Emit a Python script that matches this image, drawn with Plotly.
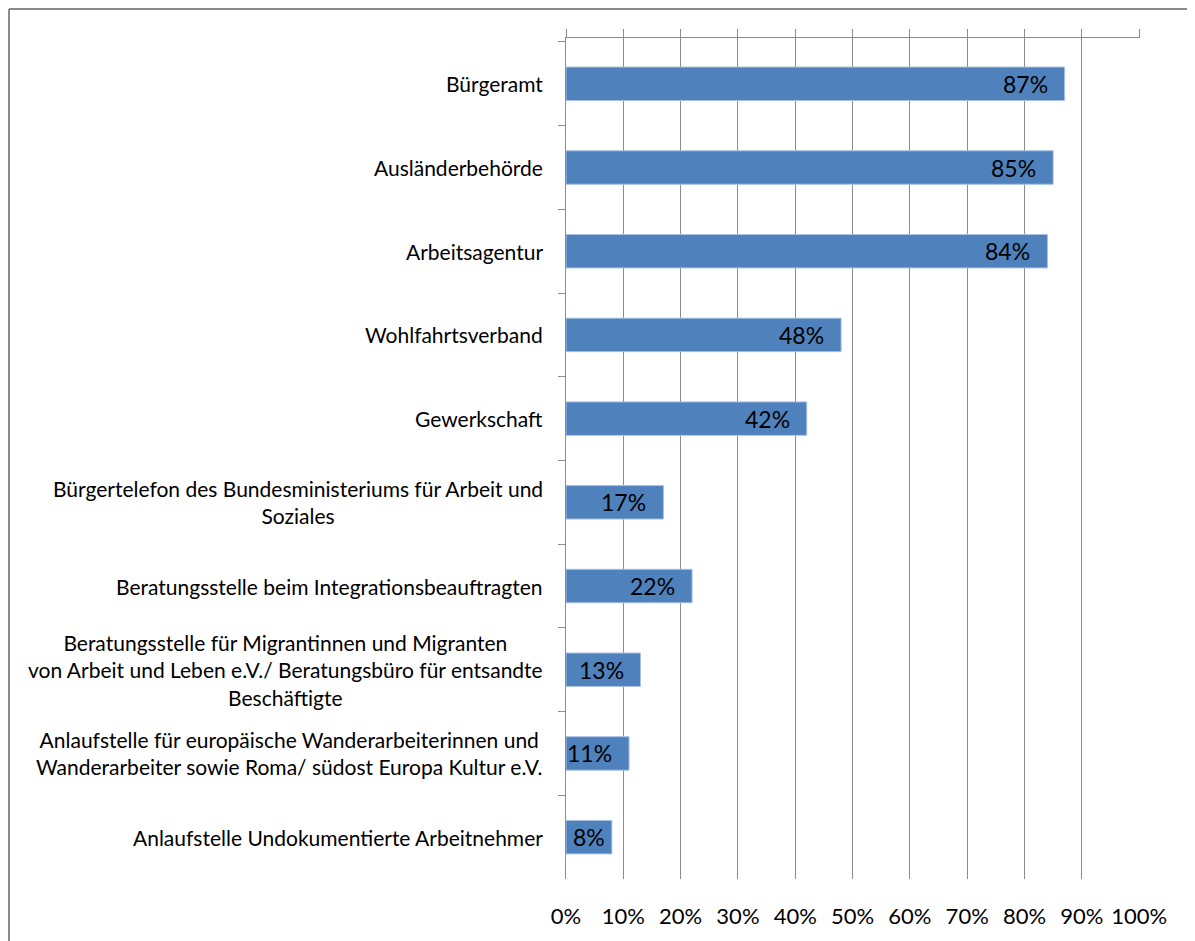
import plotly.graph_objects as go

categories = [
    "Bürgeramt",
    "Ausländerbehörde",
    "Arbeitsagentur",
    "Wohlfahrtsverband",
    "Gewerkschaft",
    "Bürgertelefon des Bundesministeriums für Arbeit und<br>Soziales",
    "Beratungsstelle beim Integrationsbeauftragten",
    "Beratungsstelle für Migrantinnen und Migranten<br>von Arbeit und Leben e.V./ Beratungsbüro für entsandte<br>Beschäftigte",
    "Anlaufstelle für europäische Wanderarbeiterinnen und<br>Wanderarbeiter sowie Roma/ südost Europa Kultur e.V.",
    "Anlaufstelle Undokumentierte Arbeitnehmer",
]
values = [87, 85, 84, 48, 42, 17, 22, 13, 11, 8]
tick_values = [0, 0.1, 0.2, 0.3, 0.4, 0.5, 0.6, 0.7, 0.8, 0.9, 1.0]

BAR = "#4F81BD"
GRID = "#8C8C8C"
FONT = "Lato"

# page body has an 8px margin; compensate so the plot lands where the reference has it
OFF = 8
W, H = 1195 - OFF, 941 - OFF
L, R, T, B = 566 - OFF, 55, 38 - OFF, 59
pw, ph = W - L - R, H - T - B


def px_to_paper_x(page_x):
    return (page_x - OFF - L) / pw


def px_to_paper_y(page_y):
    return (H - B - (page_y - OFF)) / ph


fig = go.Figure()
fig.add_trace(go.Bar(
    x=[v / 100 for v in values],
    y=categories,
    orientation="h",
    width=0.4,
    marker=dict(color=BAR, line=dict(color="#A9C1E3", width=1)),
    hoverinfo="skip",
))
# invisible helper trace so the bottom axis (tick labels) is drawn
fig.add_trace(go.Scatter(
    x=[tick_values[0], tick_values[-1]], y=[categories[0], categories[0]],
    xaxis="x2", mode="markers", marker=dict(opacity=0), hoverinfo="skip",
))

annotations = []
for cat in categories:
    annotations.append(dict(
        x=0, xref="paper", y=cat, yref="y",
        text=cat, showarrow=False, xanchor="right", yanchor="middle",
        xshift=-21, align="center",
        font=dict(family=FONT, size=21, color="#000000"),
    ))
for cat, v in zip(categories, values):
    if v >= 10:
        ann = dict(x=v / 100, xanchor="right", xshift=-15)
    else:
        ann = dict(x=0, xanchor="left", xshift=5)
    ann.update(dict(
        xref="x", y=cat, yref="y", text=f"{v}%", showarrow=False,
        yanchor="middle", font=dict(family=FONT, size=23, color="#000000"),
    ))
    annotations.append(ann)

XR = [0, 1.0015]

fig.update_layout(
    width=W, height=H,
    margin=dict(l=L, r=R, t=T, b=B),
    paper_bgcolor="white", plot_bgcolor="white",
    showlegend=False,
    font=dict(family=FONT, color="#000000"),
    annotations=annotations,
    xaxis=dict(
        range=XR, tickvals=tick_values, side="top",
        showticklabels=False, ticks="outside", ticklen=8, tickcolor=GRID,
        showgrid=True, gridcolor=GRID, gridwidth=1,
        showline=True, linecolor=GRID, linewidth=1, zeroline=False,
        fixedrange=True,
    ),
    xaxis2=dict(
        range=XR, tickvals=tick_values, overlaying="x", side="bottom",
        anchor="y", tickformat=".0%", showgrid=False, showline=False,
        zeroline=False, ticks="", ticklabelstandoff=22,
        tickfont=dict(family=FONT, size=22, color="#000000"),
        fixedrange=True,
    ),
    yaxis=dict(
        type="category", categoryorder="array", categoryarray=categories,
        autorange="reversed", showticklabels=False,
        ticks="outside", tickson="boundaries", ticklen=7, tickcolor=GRID,
        showline=True, linecolor=GRID, linewidth=1, showgrid=False,
        zeroline=False, fixedrange=True,
    ),
    bargap=0.6,
    shapes=[
        # outer frame: left edge and top edge (right/bottom run off the image)
        dict(type="line", xref="paper", yref="paper",
             x0=px_to_paper_x(9), x1=px_to_paper_x(9),
             y0=px_to_paper_y(1000), y1=px_to_paper_y(9),
             line=dict(color="#8A8A8A", width=2), layer="below"),
        dict(type="line", xref="paper", yref="paper",
             x0=px_to_paper_x(9), x1=px_to_paper_x(1300),
             y0=px_to_paper_y(9), y1=px_to_paper_y(9),
             line=dict(color="#8A8A8A", width=2), layer="below"),
    ],
)

fig.write_html("out.html")
